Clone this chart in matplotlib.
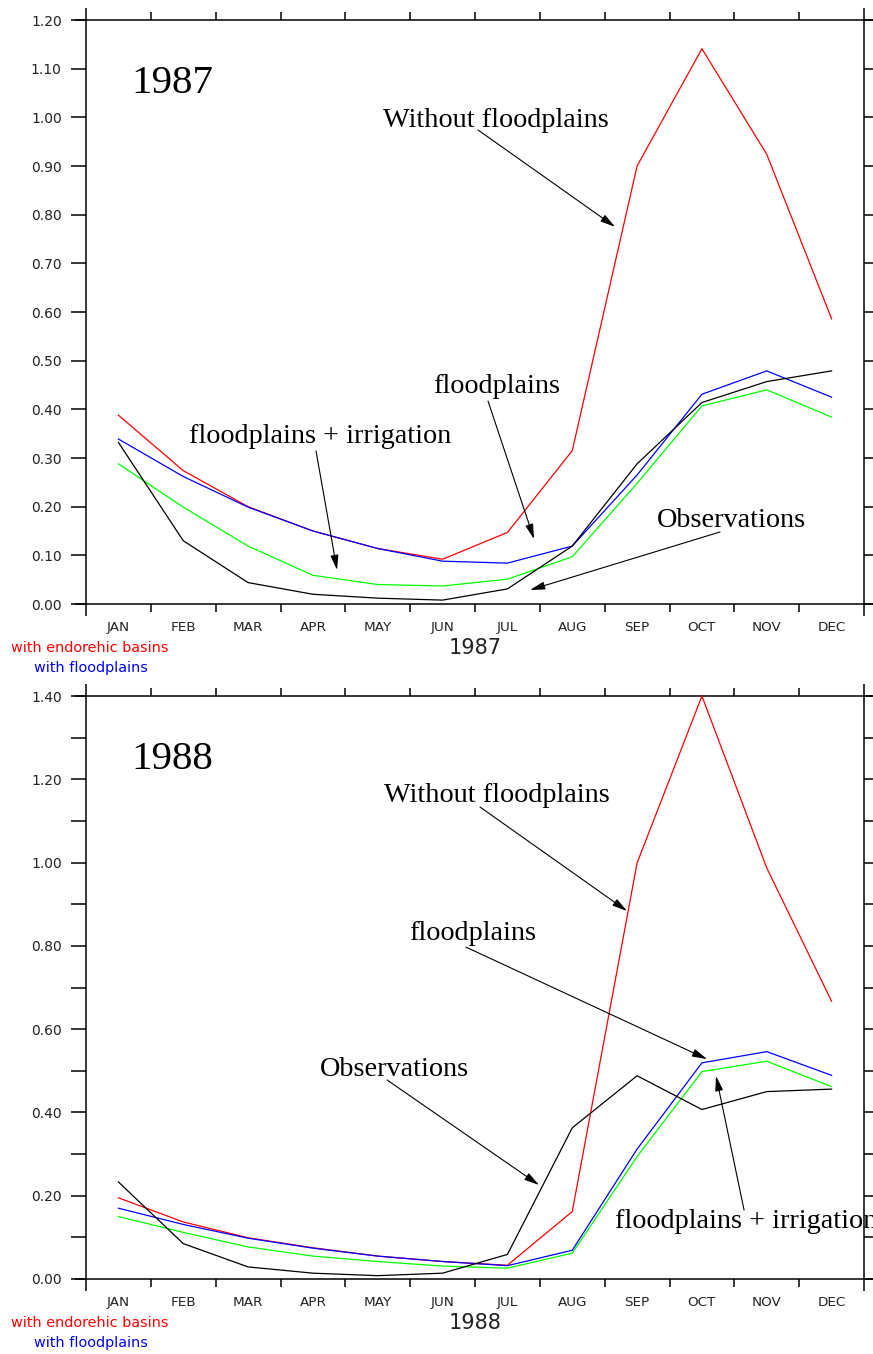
import matplotlib
matplotlib.use('Agg')
import matplotlib.pyplot as plt
import numpy as np

plt.rcParams['font.family'] = ['DejaVu Sans']

months = ['JAN', 'FEB', 'MAR', 'APR', 'MAY', 'JUN',
          'JUL', 'AUG', 'SEP', 'OCT', 'NOV', 'DEC']

# 1987 discharge
obs_1987 = [0.332, 0.130, 0.044, 0.020, 0.012, 0.008, 0.031, 0.119, 0.288, 0.414, 0.457, 0.479]
nofp_1987 = [0.388, 0.274, 0.200, 0.150, 0.114, 0.092, 0.147, 0.315, 0.900, 1.141, 0.924, 0.586]
fp_1987 = [0.339, 0.262, 0.199, 0.150, 0.114, 0.088, 0.084, 0.119, 0.265, 0.431, 0.479, 0.425]
fpirr_1987 = [0.288, 0.199, 0.119, 0.059, 0.040, 0.037, 0.051, 0.097, 0.248, 0.407, 0.440, 0.384]

# 1988 discharge
obs_1988 = [0.233, 0.085, 0.029, 0.014, 0.008, 0.014, 0.059, 0.363, 0.488, 0.407, 0.450, 0.456]
nofp_1988 = [0.195, 0.137, 0.099, 0.075, 0.055, 0.042, 0.033, 0.162, 0.999, 1.400, 0.987, 0.667]
fp_1988 = [0.170, 0.131, 0.098, 0.074, 0.055, 0.042, 0.032, 0.069, 0.312, 0.519, 0.546, 0.489]
fpirr_1988 = [0.150, 0.112, 0.077, 0.055, 0.042, 0.031, 0.026, 0.062, 0.294, 0.498, 0.523, 0.462]

W, H = 873, 1354
SERIF = ['Liberation Serif', 'DejaVu Serif']


def px(x, y):
	return x / W, 1 - y / H


def draw_frame(ax, h_px):
	# frame lines that run a little past the corners
	ex = 11.0 / (864 - 86)
	ey = 12.0 / h_px
	kw = dict(transform=ax.transAxes, color='k', lw=1.1, clip_on=False, solid_capstyle='butt')
	ax.plot([0, 0], [-ey, 1 + ey], **kw)
	ax.plot([1, 1], [-ey, 1 + ey], **kw)
	ax.plot([-ex, 1 + ex], [0, 0], **kw)
	ax.plot([-ex, 1 + ex], [1, 1], **kw)
	for s in ax.spines.values():
		s.set_visible(False)


def setup_axis(ax, ymax, major, minor, h_px):
	ax.set_xlim(0, 12)
	ax.set_ylim(0, ymax)
	ax.set_xticks(np.arange(1, 12))
	ax.set_xticklabels([])
	ax.set_xticks(np.arange(12) + 0.5, minor=True)
	ax.set_xticklabels(months, minor=True, fontsize=9.7, color='#222222')
	ax.tick_params(axis='x', which='major', direction='out', length=6, width=1.1,
		top=True, bottom=True)
	ax.tick_params(axis='x', which='minor', length=0, pad=12)
	ax.set_yticks(np.arange(0, ymax + 0.001, major))
	ax.set_yticklabels(["%.2f" % v for v in np.arange(0, ymax + 0.001, major)],
		fontsize=10, color='#222222')
	ax.set_yticks(np.arange(0, ymax + 0.001, minor), minor=True)
	ax.tick_params(axis='y', which='both', direction='out', length=11, width=1.1,
		left=True, right=True, pad=6.5)
	draw_frame(ax, h_px)


def plot_year(ax, obs, nofp, fp, fpirr):
	x = np.arange(12) + 0.5
	ax.plot(x, nofp, color='#ff0000', lw=0.9, clip_on=False)
	ax.plot(x, fpirr, color='#00ff00', lw=0.9)
	ax.plot(x, fp, color='#0000ff', lw=0.9)
	ax.plot(x, obs, color='black', lw=0.9)


def note(ax, text, pos, start, tip, size=20.3):
	ax.text(pos[0], pos[1], text, family=SERIF, fontsize=size, ha='left', va='baseline')
	if start is not None:
		ax.annotate('', xy=tip, xytext=start,
			arrowprops=dict(arrowstyle='-|>,head_length=0.6,head_width=0.16',
				mutation_scale=15, color='k', lw=0.8, shrinkA=0, shrinkB=0))


fig = plt.figure(figsize=(W / 100, H / 100), dpi=100)
fig.patch.set_facecolor('white')

# top panel: 1987
ax1 = fig.add_axes([86 / W, 1 - 604 / H, (864 - 86) / W, (604 - 20) / H])
setup_axis(ax1, 1.2, 0.1, 0.1, 584)
plot_year(ax1, obs_1987, nofp_1987, fp_1987, fpirr_1987)
note(ax1, '1987', (0.694, 1.050), None, None, size=29.5)
note(ax1, 'Without floodplains', (4.581, 0.980), (6.047, 0.974), (8.160, 0.775))
note(ax1, 'floodplains', (5.352, 0.4336), (6.201, 0.417), (6.910, 0.1336))
note(ax1, 'floodplains + irrigation', (1.589, 0.3308), (3.548, 0.3144), (3.872, 0.0699))
note(ax1, 'Observations', (8.808, 0.158), (9.779, 0.148), (6.849, 0.0288))

# bottom panel: 1988
ax2 = fig.add_axes([86 / W, 1 - 1279 / H, (864 - 86) / W, (1279 - 696) / H])
setup_axis(ax2, 1.4, 0.2, 0.1, 583)
plot_year(ax2, obs_1988, nofp_1988, fp_1988, fpirr_1988)
note(ax2, '1988', (0.694, 1.2247), None, None, size=29.5)
note(ax2, 'Without floodplains', (4.597, 1.1455), (6.077, 1.1334), (8.345, 0.8837))
note(ax2, 'floodplains', (4.982, 0.814), (5.861, 0.797), (9.579, 0.528))
note(ax2, 'Observations', (3.609, 0.4875), (4.643, 0.478), (6.987, 0.2257))
note(ax2, 'floodplains + irrigation', (8.160, 0.1225), (10.150, 0.1657), (9.718, 0.4875))

# labels under each panel
for yr, y0 in (('1987', 648), ('1988', 1323)):
	fig.text(*px(475, y0), yr, fontsize=15, ha='center', va='center', color='#222222')
	fig.text(*px(11, y0), 'with endorehic basins', fontsize=10.4, color='#ff0000',
		ha='left', va='center')
	fig.text(*px(34, y0 + 20), 'with floodplains', fontsize=10.4, color='#0000ff',
		ha='left', va='center')

fig.savefig('out.png', dpi=100)
